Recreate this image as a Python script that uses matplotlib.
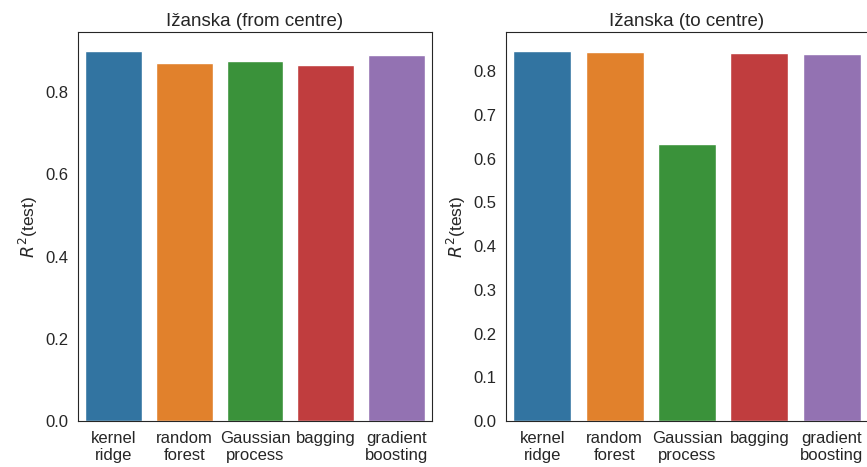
import matplotlib
matplotlib.use("Agg")
import matplotlib.pyplot as plt
import pandas as pd
import seaborn as sns

models = ["kernel\nridge", "random\nforest", "Gaussian\nprocess", "bagging", "gradient\nboosting"]
r2_from_centre = [0.901, 0.870, 0.876, 0.867, 0.891]
r2_to_centre = [0.847, 0.844, 0.633, 0.841, 0.838]
titles = ["Ižanska (from centre)", "Ižanska (to centre)"]

sns.set_style("white")
plt.rcParams["font.family"] = ["Liberation Sans", "DejaVu Sans"]

fig = plt.figure(figsize=(8.67, 4.67), dpi=100)
W, H = 867, 467
axL = fig.add_axes([78 / W, (H - 421) / H, (432 - 78) / W, (421 - 32) / H])
axR = fig.add_axes([506 / W, (H - 421) / H, (868 - 506) / W, (421 - 32) / H])

for ax, vals, title in zip((axL, axR), (r2_from_centre, r2_to_centre), titles):
    df = pd.DataFrame({"model": models, "r2": vals})
    sns.barplot(data=df, x="model", y="r2", hue="model", palette="tab10",
                legend=False, ax=ax)
    ax.set_title(title, fontsize=13.5, pad=4, color=".15")
    ax.set_xlabel("")
    ax.set_ylabel("$R^2$(test)", fontsize=12.5, color=".15")
    ax.tick_params(axis="both", labelsize=12, colors=".15")

axR.set_yticks([0.0, 0.1, 0.2, 0.3, 0.4, 0.5, 0.6, 0.7, 0.8])

fig.savefig("out.png", dpi=100)
